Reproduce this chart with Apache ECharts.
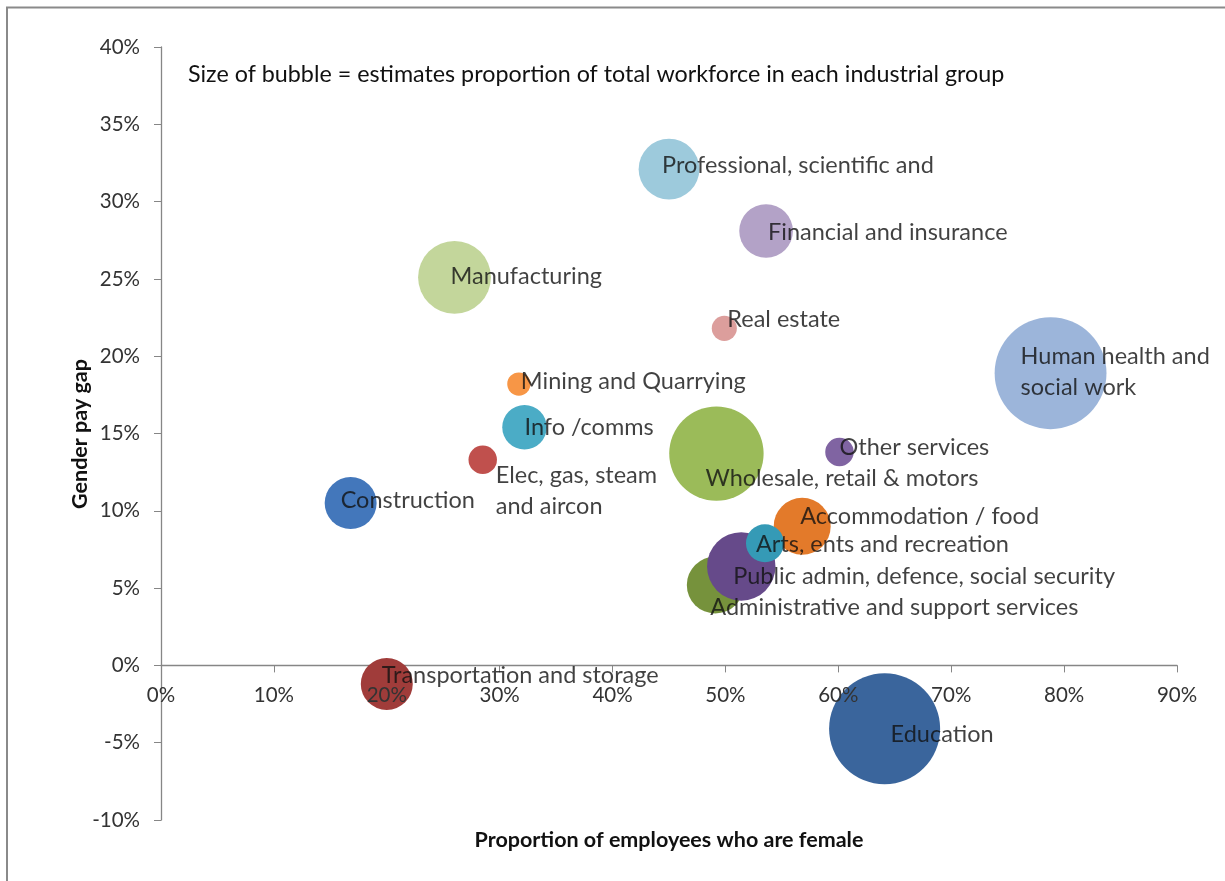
<!DOCTYPE html>
<html>
<head>
<meta charset="utf-8">
<script src="https://cdn.jsdelivr.net/npm/echarts@6/dist/echarts.min.js"></script>
<style>
  html, body { margin: 0; padding: 0; background: #ffffff; }
  #chart { width: 1225px; height: 881px; }
</style>
</head>
<body>
<div id="chart"></div>
<script>
// ---- data ----
const categories = [
  'Professional, scientific and',
  'Financial and insurance',
  'Manufacturing',
  'Real estate',
  'Human health and\nsocial work',
  'Mining and Quarrying',
  'Info /comms',
  'Elec, gas, steam\nand aircon',
  'Construction',
  'Wholesale, retail & motors',
  'Other services',
  'Administrative and support services',
  'Public admin, defence, social security',
  'Accommodation / food',
  'Arts, ents and recreation',
  'Transportation and storage',
  'Education'
];
// proportion of employees who are female (%)
const femaleShare = [45.0, 53.6, 26.0, 49.9, 78.8, 31.7, 32.2, 28.5, 16.8, 49.2, 60.1, 49.1, 51.4, 56.8, 53.5, 20.0, 64.1];
// gender pay gap (%)
const payGap = [32.1, 28.1, 25.1, 21.8, 18.9, 18.2, 15.4, 13.3, 10.5, 13.7, 13.8, 5.2, 6.4, 9.0, 7.9, -1.2, -4.1];
// estimated proportion of total workforce (%), bubble size
const workforceShare = [4.1, 3.2, 5.9, 0.7, 13.9, 0.6, 2.2, 0.9, 3.0, 9.9, 0.9, 3.6, 5.2, 3.6, 1.6, 3.0, 13.7];

const xTicks = { min: 0, max: 90, interval: 10 };
const yTicks = { min: -10, max: 40, interval: 5 };

// ---- styles ----
const colors = ['#9dcadc', '#b3a2c7', '#c3d69b', '#dc9e9c', '#9cb5da', '#f79646', '#4bacc6', '#c0504d',
  '#4377bb', '#9bbb59', '#8064a2', '#76923c', '#664a8a', '#e37a2a', '#359ab6', '#a03c3a', '#3a659c'];
const labelOffsets = [[-7, -4], [2, 1], [-4, -1], [3, -9], [-30, -1], [2, -3], [0, 0], [13, 31], [-10, -3],
  [-11, 25], [0, -5], [-5, 22], [-8, 10], [-2, -10], [-9, 1], [-5, -9], [6, 6]];

const FONT = 'Lato';
const sizeOf = v => 30 * Math.sqrt(v[2]);

const points = categories.map((c, i) => ({
  name: c,
  value: [femaleShare[i], payGap[i], workforceShare[i]],
  itemStyle: { color: colors[i] }
}));
const labelPoints = categories.map((c, i) => ({
  name: c,
  value: [femaleShare[i], payGap[i], workforceShare[i]]
}));

const GRID = { left: 161, right: 48, top: 47, bottom: 61 };
const plotH = 881 - GRID.top - GRID.bottom;
// place the horizontal axis on the zero line (distance above the grid's bottom edge)
const zeroOffset = -plotH * (0 - yTicks.min) / (yTicks.max - yTicks.min);

const axisGray = '#868686';
const baseX = {
  type: 'value',
  min: xTicks.min, max: xTicks.max, interval: xTicks.interval,
  position: 'bottom',
  offset: zeroOffset,
  splitLine: { show: false }
};

const chart = echarts.init(document.getElementById('chart'), null, { renderer: 'canvas' });
chart.setOption({
  animation: false,
  backgroundColor: '#ffffff',
  grid: Object.assign({ outerBoundsMode: 'none' }, GRID),
  xAxis: [
    Object.assign({}, baseX, {
      z: 0,
      axisLine: { show: true, onZero: false, lineStyle: { color: axisGray, width: 1.3 } },
      axisTick: { show: true, length: 7, lineStyle: { color: axisGray } },
      axisLabel: { show: false }
    }),
    Object.assign({}, baseX, {
      z: 4,
      axisLine: { show: false, onZero: false },
      axisTick: { show: false },
      axisLabel: { formatter: '{value}%', margin: 19, fontSize: 20.5, fontFamily: FONT, color: '#333333' }
    })
  ],
  yAxis: {
    type: 'value',
    min: yTicks.min, max: yTicks.max, interval: yTicks.interval,
    axisLine: { show: true, lineStyle: { color: axisGray, width: 1.3 } },
    axisTick: { show: true, length: 7, lineStyle: { color: axisGray } },
    axisLabel: { formatter: '{value}%', margin: 21, fontSize: 20.5, fontFamily: FONT, color: '#333333' },
    splitLine: { show: false }
  },
  graphic: [
    {
      type: 'polyline', silent: true,
      shape: { points: [[7, 881], [7, 7.5], [1225, 7.5]] },
      style: { stroke: '#8a8a8a', lineWidth: 2, fill: null }
    },
    {
      type: 'text', silent: true, x: 188, y: 74,
      style: {
        text: 'Size of bubble = estimates proportion of total workforce in each industrial group',
        fontSize: 23.3, fontFamily: FONT, fill: '#111111', textAlign: 'left', textVerticalAlign: 'middle'
      }
    },
    {
      type: 'text', silent: true, x: 669, y: 840,
      style: {
        text: 'Proportion of employees who are female',
        fontSize: 21.5, fontWeight: 'bold', fontFamily: FONT, fill: '#111111', textAlign: 'center', textVerticalAlign: 'middle'
      }
    },
    {
      type: 'text', silent: true, x: 80, y: 434, rotation: Math.PI / 2,
      style: {
        text: 'Gender pay gap',
        fontSize: 21.5, fontWeight: 'bold', fontFamily: FONT, fill: '#111111', textAlign: 'center', textVerticalAlign: 'middle'
      }
    }
  ],
  series: [
    {
      type: 'scatter',
      xAxisIndex: 0,
      z: 2,
      silent: true,
      symbol: 'circle',
      symbolSize: sizeOf,
      itemStyle: { opacity: 1 },
      data: points
    },
    {
      type: 'scatter',
      xAxisIndex: 0,
      z: 5,
      silent: true,
      symbol: 'circle',
      symbolSize: sizeOf,
      itemStyle: { color: 'rgba(0,0,0,0)' },
      label: {
        show: true,
        formatter: '{b}',
        position: ['50%', '50%'],
        align: 'left',
        verticalAlign: 'middle',
        fontSize: 23.5,
        lineHeight: 31,
        fontFamily: FONT,
        color: '#111111'
      },
      labelLayout: function (params) {
        const o = labelOffsets[params.dataIndex];
        return { dx: o[0], dy: o[1], hideOverlap: false };
      },
      data: labelPoints
    }
  ]
});
</script>
</body>
</html>
